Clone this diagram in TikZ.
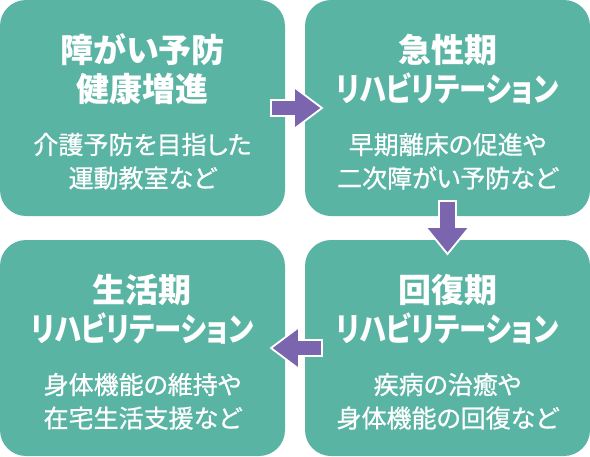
\documentclass[tikz,border=0pt]{standalone}
\usepackage{fontspec}
\setmainfont{Noto Sans CJK JP}[RawFeature=+palt]
\newfontfamily\katanarrow{Noto Sans CJK JP}[RawFeature=+palt, FakeStretch=0.83]
\newfontfamily\notefont{Noto Sans CJK JP}[RawFeature=+palt, FakeBold=0.8]
\usetikzlibrary{positioning,calc}
\definecolor{rhteal}{HTML}{5AB4A4}
\definecolor{rhpurple}{HTML}{7B65AF}
\tikzset{
  stagebox/.style={fill=rhteal, rounded corners=26pt, minimum width=285pt,
    minimum height=216pt, inner sep=0pt},
  stagetitle/.style={text=white, align=center, inner sep=0pt,
    font=\fontsize{33}{39}\selectfont\bfseries},
  stagenote/.style={text=white, align=center, inner sep=0pt,
    font=\notefont\fontsize{25}{33.5}\selectfont},
  blockarrow/.style={fill=rhpurple, draw=white, line width=1.8pt, line join=miter}
}
\newcommand{\rehab}{{\katanarrow\bfseries リハビリテーション}}
\begin{document}
\begin{tikzpicture}[x=1pt, y=-1pt]
        \useasboundingbox (0,0) rectangle (590,456);
        % four stages
        \node[stagebox] (prev) at (142.5,108) {};
        \node[stagebox] (acute) at (447.5,108) {};
        \node[stagebox] (life) at (142.5,348) {};
        \node[stagebox] (recov) at (447.5,348) {};
        % texts
        \node[stagetitle] (prevt) at ($(prev.north)+(0,69.5)$) {障がい予防\\健康増進};
        \node[stagenote] (prevn) at ($(prev.north)+(0,161.5)$) {介護予防を目指した\\運動教室など};
        \node[stagetitle] (acutet) at ($(acute.north)+(0,69.5)$) {急性期\\\rehab};
        \node[stagenote] (acuten) at ($(acute.north)+(0,161.5)$) {早期離床の促進や\\二次障がい予防など};
        \node[stagetitle] (recovt) at ($(recov.north)+(0,69.5)$) {回復期\\\rehab};
        \node[stagenote] (recovn) at ($(recov.north)+(0,161.5)$) {疾病の治癒や\\身体機能の回復など};
        \node[stagetitle] (lifet) at ($(life.north)+(0,69.5)$) {生活期\\\rehab};
        \node[stagenote] (lifen) at ($(life.north)+(0,161.5)$) {身体機能の維持や\\在宅生活支援など};
        % arrows between stages
        \coordinate (a1) at ($(prev.east)!0.5!(acute.west)$);
        \coordinate (a2) at ($(acute.south)!0.5!(recov.north)$);
        \coordinate (a3) at ($(recov.west)!0.5!(life.east)$);
        \draw[blockarrow] (a1) ++(-24,-8) -- ++(23,0) -- ++(0,-13) -- ++(28,21)
          -- ++(-28,21) -- ++(0,-13) -- ++(-23,0) -- cycle;
        \draw[blockarrow] (a2) ++(-8.5,-27) -- ++(0,26) -- ++(-13.5,0) -- ++(22,27)
          -- ++(22,-27) -- ++(-13.5,0) -- ++(0,-26) -- cycle;
        \draw[blockarrow] (a3) ++(27,-8) -- ++(-23,0) -- ++(0,-13) -- ++(-28,21)
          -- ++(28,21) -- ++(0,-13) -- ++(23,0) -- cycle;
\end{tikzpicture}
\end{document}
